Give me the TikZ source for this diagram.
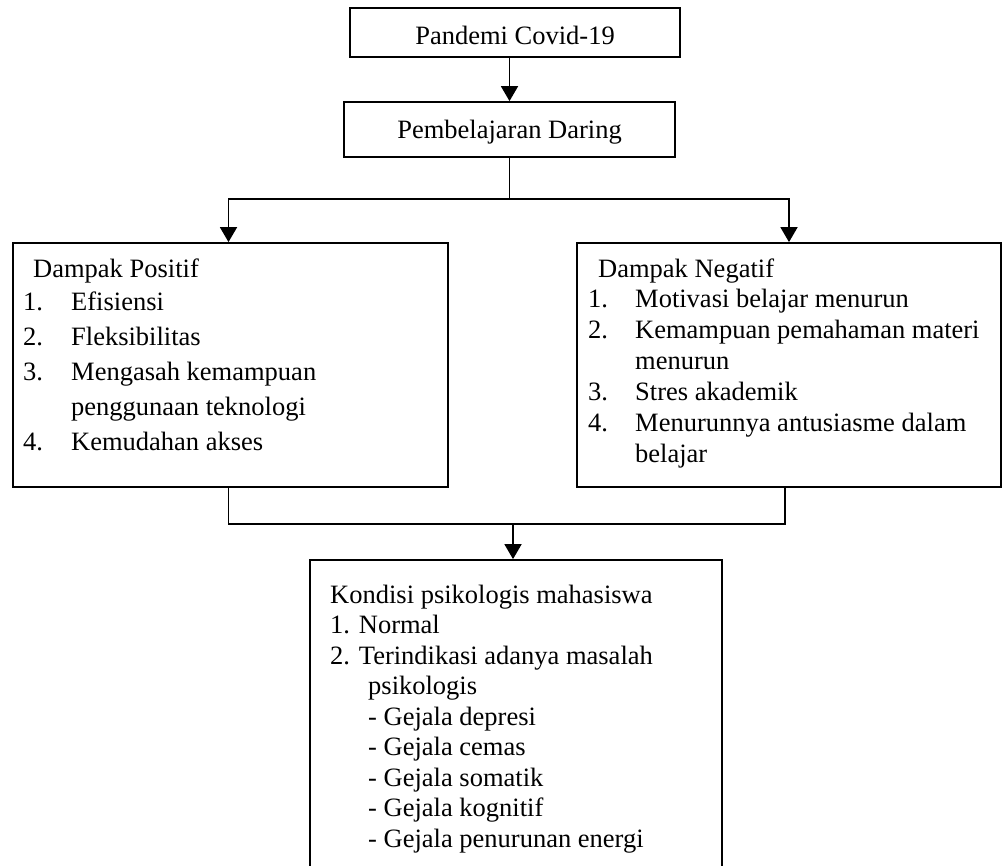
\documentclass[tikz,border=0pt]{standalone}
\usepackage{fontspec}
\setmainfont{Liberation Serif}
\usetikzlibrary{arrows.meta}
\begin{document}
\begin{tikzpicture}[x=1pt,y=-1pt,
  box/.style={draw, line width=1.8pt, inner sep=0pt},
  txt/.style={anchor=base west, inner sep=0pt, align=left},
  arr/.style={line width=1.8pt, -{Triangle[width=17pt,length=15pt]}},
  con/.style={line width=1.8pt},
  font=\fontsize{26.5}{35}\selectfont]
\useasboundingbox (0,0) rectangle (1003,866);
\clip (0,0) rectangle (1003,866);
% boxes
\node[box, minimum width=330pt, minimum height=49pt, text height=24pt, text depth=0pt] (p1) at (515,32.5) {Pandemi Covid-19};
\node[box, minimum width=331pt, minimum height=55pt, text height=18pt, text depth=0pt] (p2) at (509.5,129.5) {Pembelajaran Daring};
\node[box, minimum width=435pt, minimum height=244pt] (pos) at (230.5,365) {};
\node[box, minimum width=424pt, minimum height=244pt] (neg) at (789,365) {};
\node[box, minimum width=412pt, minimum height=340pt] (kon) at (516,730) {};
% texts
\node[txt] (posH) at (33,278) {Dampak Positif};
\node[txt] (posL) at (23,310) {\fontsize{26.5}{35.2}\selectfont\begin{tabular}[t]{@{}p{48pt}@{}l@{}}1.&Efisiensi\\2.&Fleksibilitas\\3.&Mengasah kemampuan\\&penggunaan teknologi\\4.&Kemudahan akses\end{tabular}};
\node[txt] (negH) at (598,278) {Dampak Negatif};
\node[txt] (negL) at (588,308) {\fontsize{26.5}{30.8}\selectfont\begin{tabular}[t]{@{}p{47pt}@{}l@{}}1.&Motivasi belajar menurun\\2.&Kemampuan pemahaman materi\\&menurun\\3.&Stres akademik\\4.&Menurunnya antusiasme dalam\\&belajar\end{tabular}};
\node[txt] (konL) at (330,603) {\fontsize{26.5}{30.5}\selectfont\begin{tabular}[t]{@{}l@{}}Kondisi psikologis mahasiswa\\1. Normal\\2. Terindikasi adanya masalah\\\hspace*{38pt}psikologis\\\hspace*{38pt}- Gejala depresi\\\hspace*{38pt}- Gejala cemas\\\hspace*{38pt}- Gejala somatik\\\hspace*{38pt}- Gejala kognitif\\\hspace*{38pt}- Gejala penurunan energi\end{tabular}};
% connectors
\draw[arr] (p1.south -| p2.north) -- (p2.north);
\draw[arr] (p2.south) -- ++(0,41) -| ([xshift=-2pt]pos.north);
\draw[arr] (p2.south) -- ++(0,41) -| (neg.north);
\draw[con] ([xshift=-2pt]pos.south) -- ++(0,36) -| ([xshift=-4pt]neg.south);
\draw[arr] ([xshift=-2pt]pos.south) ++(0,36) -| ([xshift=-3pt]kon.north);
\end{tikzpicture}
\end{document}
